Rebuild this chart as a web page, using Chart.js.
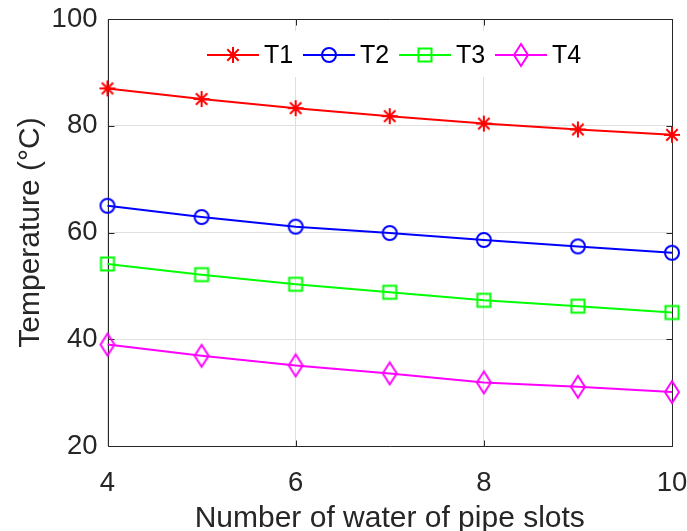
<!DOCTYPE html>
<html>
<head>
<meta charset="utf-8">
<script src="https://cdn.jsdelivr.net/npm/chart.js@4"></script>
<style>
  html, body { margin: 0; padding: 0; background: #fff; }
  #wrap { width: 687px; height: 531px; }
</style>
</head>
<body>
<div id="wrap"><canvas id="c" width="687" height="531"></canvas></div>
<script>
// data
const slots = [4, 5, 6, 7, 8, 9, 10];
const t1 = [87.0, 85.0, 83.3, 81.8, 80.4, 79.3, 78.3];
const t2 = [65.0, 62.9, 61.1, 59.9, 58.6, 57.4, 56.2];
const t3 = [54.1, 52.1, 50.3, 48.8, 47.3, 46.2, 45.0];
const t4 = [39.0, 36.9, 35.1, 33.6, 31.9, 31.1, 30.1];
const names = ['T1', 'T2', 'T3', 'T4'];
const xTicks = [4, 6, 8, 10];
const yTicks = [20, 40, 60, 80, 100];

const FONT = '"Liberation Sans", Arial, sans-serif';
const INK = '#262626';

// matlab-ish markers as little canvases
function marker(kind, color) {
  const c = document.createElement('canvas');
  const w = 18, h = kind === 'diamond' ? 26 : 18;
  c.width = w; c.height = h;
  const g = c.getContext('2d');
  g.strokeStyle = color;
  g.lineWidth = 2;
  const cx = w / 2, cy = h / 2;
  g.beginPath();
  if (kind === 'star') {
    const r = 8, d = 5.7;
    g.moveTo(cx, cy - r); g.lineTo(cx, cy + r);
    g.moveTo(cx - r, cy); g.lineTo(cx + r, cy);
    g.moveTo(cx - d, cy - d); g.lineTo(cx + d, cy + d);
    g.moveTo(cx - d, cy + d); g.lineTo(cx + d, cy - d);
  } else if (kind === 'circle') {
    g.arc(cx, cy, 7, 0, Math.PI * 2);
  } else if (kind === 'square') {
    g.rect(cx - 6.5, cy - 6.5, 13, 13);
  } else {
    g.moveTo(cx, cy - 11); g.lineTo(cx + 7, cy);
    g.lineTo(cx, cy + 11); g.lineTo(cx - 7, cy);
    g.closePath();
  }
  g.stroke();
  return c;
}

const colors = ['#ff0000', '#0000ff', '#00ff00', '#ff00ff'];
const kinds = ['star', 'circle', 'square', 'diamond'];
const series = [t1, t2, t3, t4];

const datasets = series.map((vals, i) => ({
  label: names[i],
  data: slots.map((x, j) => ({ x: x, y: vals[j] })),
  borderColor: colors[i],
  borderWidth: 2,
  pointStyle: marker(kinds[i], colors[i]),
  pointRadius: 7,
  fill: false,
  tension: 0,
  clip: false
}));

// box + inward ticks, drawn under the lines like matlab
const frame = {
  id: 'frame',
  beforeDatasetsDraw(chart) {
    const { ctx, chartArea: a, scales } = chart;
    const L = Math.round(a.left) + 0.5, R = Math.round(a.right) + 0.5;
    const T = Math.round(a.top) + 0.5, B = Math.round(a.bottom) + 0.5;
    ctx.save();
    ctx.strokeStyle = INK;
    ctx.lineWidth = 1;
    ctx.beginPath();
    ctx.rect(L, T, R - L, B - T);
    const tl = 6;
    xTicks.forEach(v => {
      const px = Math.round(scales.x.getPixelForValue(v)) + 0.5;
      ctx.moveTo(px, B); ctx.lineTo(px, B - tl);
      ctx.moveTo(px, T); ctx.lineTo(px, T + tl);
    });
    yTicks.forEach(v => {
      const py = Math.round(scales.y.getPixelForValue(v)) + 0.5;
      ctx.moveTo(L, py); ctx.lineTo(L + tl, py);
      ctx.moveTo(R, py); ctx.lineTo(R - tl, py);
    });
    ctx.stroke();
    ctx.restore();
  }
};

// legend inside the axes, horizontal, no outline
const inlineLegend = {
  id: 'inlineLegend',
  afterDatasetsDraw(chart) {
    const { ctx } = chart;
    ctx.save();
    ctx.fillStyle = '#fff';
    ctx.fillRect(197, 31, 400, 46);
    const y0 = 55, x0 = 207, step = 96, len = 52;
    ctx.font = '25px ' + FONT;
    ctx.textBaseline = 'middle';
    chart.data.datasets.forEach((ds, i) => {
      const x = x0 + i * step;
      ctx.strokeStyle = ds.borderColor;
      ctx.lineWidth = 2;
      ctx.beginPath();
      ctx.moveTo(x, y0); ctx.lineTo(x + len, y0);
      ctx.stroke();
      const img = ds.pointStyle;
      ctx.drawImage(img, x + len / 2 - img.width / 2, y0 - img.height / 2);
      ctx.fillStyle = '#000';
      ctx.fillText(ds.label, x + len + 5, y0 + 1);
    });
    ctx.restore();
  }
};

new Chart(document.getElementById('c'), {
  type: 'line',
  data: { datasets: datasets },
  options: {
    responsive: false,
    animation: false,
    events: [],
    layout: { padding: { left: 0, right: 15, top: 19, bottom: 0 } },
    plugins: { legend: { display: false }, tooltip: { enabled: false } },
    scales: {
      x: {
        type: 'linear',
        min: 4, max: 10,
        afterBuildTicks: s => { s.ticks = xTicks.map(v => ({ value: v })); },
        afterFit: s => { s.height = 85; s.paddingLeft = 0; s.paddingRight = 0; },
        grid: { color: '#dfdfdf', drawTicks: false },
        border: { display: false },
        ticks: { padding: 21, color: INK, font: { family: FONT, size: 27.5 } },
        title: {
          display: true,
          text: 'Number of water of pipe slots',
          color: INK,
          font: { family: FONT, size: 30, lineHeight: 0.85 },
          padding: { top: 0, bottom: 0 }
        }
      },
      y: {
        min: 20, max: 100,
        afterBuildTicks: s => { s.ticks = yTicks.map(v => ({ value: v })); },
        afterFit: s => { s.width = 107.5; s.paddingTop = 0; s.paddingBottom = 0; },
        grid: { color: '#dfdfdf', drawTicks: false },
        border: { display: false },
        ticks: { padding: 10, color: INK, font: { family: FONT, size: 27.5 } },
        title: {
          display: true,
          text: 'Temperature (°C)',
          color: INK,
          font: { family: FONT, size: 30 },
          padding: { top: 13, bottom: 0 }
        }
      }
    }
  },
  plugins: [frame, inlineLegend]
});
</script>
</body>
</html>
